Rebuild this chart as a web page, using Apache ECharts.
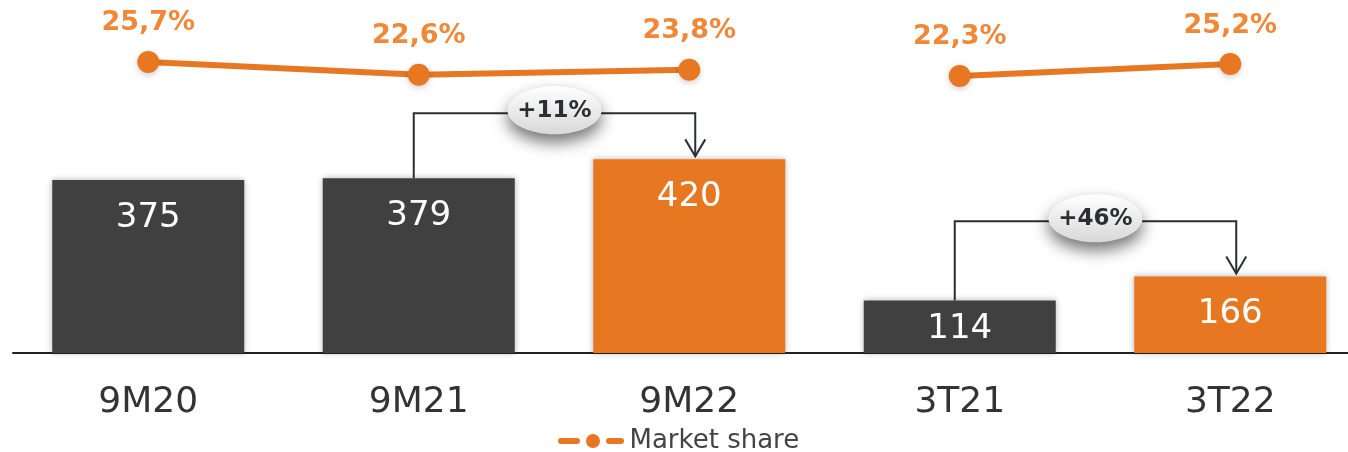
<!DOCTYPE html>
<html>
<head>
<meta charset="utf-8">
<script src="https://cdn.jsdelivr.net/npm/echarts@6/dist/echarts.min.js"></script>
<style>
  html, body { margin: 0; padding: 0; background: #fff; }
  #chart { width: 1348px; height: 452px; }
</style>
</head>
<body>
<div id="chart"></div>
<script>
// data
const categories = ['9M20', '9M21', '9M22', '3T21', '3T22'];
const volumes = [375, 379, 420, 114, 166];
const shareA = [25.7, 22.6, 23.8, null, null];   // nine-month periods
const shareB = [null, null, null, 22.3, 25.2];   // third quarters
const growthFrom = [1, 3];
const growthTo = [2, 4];
const growthLabels = ['+11%', '+46%'];

const DARK = '#404040';
const ORANGE = '#E87722';
const highlight = [false, false, true, false, true];
const FONT = 'DejaVu Sans';

const chart = echarts.init(document.getElementById('chart'));

const lineSeries = (data) => ({
    name: 'Market share',
    type: 'line',
    yAxisIndex: 1,
    data: data,
    symbol: 'circle',
    symbolSize: 22,
    z: 5,
    lineStyle: { color: ORANGE, width: 6 },
    itemStyle: { color: ORANGE, shadowBlur: 6, shadowColor: 'rgba(0,0,0,0.2)', shadowOffsetY: 2 },
    label: {
        show: true,
        position: 'top',
        distance: 14,
        color: '#F0883A',
        fontFamily: FONT,
        fontWeight: 'bold',
        fontSize: 27,
        formatter: p => p.value.toFixed(1).replace('.', ',') + '%'
    }
});

// legend mark: two rounded dashes with a dot between
const legendIcon = 'path://M3,4L19,4A3,3 0 0 1 19,10L3,10A3,3 0 0 1 3,4Z' +
    'M28,7A7,7 0 1 0 42,7A7,7 0 1 0 28,7Z' +
    'M51,4L63,4A3,3 0 0 1 63,10L51,10A3,3 0 0 1 51,4Z';

const options = {
    animation: false,
    grid: { left: 13, width: 1352.5, top: 10, bottom: 99, outerBoundsMode: 'none' },
    legend: {
        data: [{ name: 'Market share', icon: legendIcon }],
        left: 553,
        top: 423,
        itemWidth: 67,
        itemHeight: 14,
        itemGap: 10,
        itemStyle: { color: ORANGE, shadowBlur: 0 },
        textStyle: { fontFamily: FONT, fontSize: 26, color: '#444' }
    },
    xAxis: {
        type: 'category',
        data: categories,
        axisLine: { lineStyle: { color: '#222', width: 2 } },
        axisTick: { show: false },
        axisLabel: { margin: 32, fontFamily: FONT, fontSize: 36, color: '#333' }
    },
    yAxis: [
        { type: 'value', min: 0, max: 744, show: false },
        { type: 'value', min: -44.9, max: 38.3, show: false }
    ],
    series: [
        {
            name: 'Volume',
            type: 'bar',
            barWidth: 192,
            data: volumes.map((v, i) => ({
                value: v,
                itemStyle: { color: highlight[i] ? ORANGE : DARK },
                label: v < 150 ? { position: 'inside', offset: [0, 2] } : undefined
            })),
            itemStyle: { shadowBlur: 6, shadowColor: 'rgba(0,0,0,0.3)' },
            label: {
                show: true,
                position: 'insideTop',
                distance: 21,
                color: '#fff',
                fontFamily: FONT,
                fontSize: 34
            }
        },
        lineSeries(shareA),
        lineSeries(shareB)
    ]
};

chart.setOption(options);

// growth brackets between bars, placed through the axis scales
const bracketLevel = [520, 286];
const elements = [];
growthFrom.forEach((from, k) => {
    const to = growthTo[k];
    const p0 = chart.convertToPixel({ xAxisIndex: 0, yAxisIndex: 0 }, [from, volumes[from]]);
    const p1 = chart.convertToPixel({ xAxisIndex: 0, yAxisIndex: 0 }, [to, volumes[to]]);
    const top = chart.convertToPixel({ yAxisIndex: 0 }, bracketLevel[k]);
    const x0 = p0[0] - 5;
    const x1 = p1[0] + 6;
    const tipY = p1[1] - 3;
    elements.push({
        type: 'polyline',
        shape: { points: [[x0, p0[1]], [x0, top], [x1, top], [x1, tipY]] },
        style: { stroke: '#2b2f33', lineWidth: 2, fill: null },
        z: 10
    });
    elements.push({
        type: 'polyline',
        shape: { points: [[x1 - 10, tipY - 17], [x1, tipY], [x1 + 10, tipY - 17]] },
        style: { stroke: '#2b2f33', lineWidth: 2, fill: null },
        z: 10
    });
    const cx = (x0 + x1) / 2;
    const cy = top - 3;
    elements.push({
        type: 'ellipse',
        shape: { cx: cx, cy: cy, rx: 47, ry: 24 },
        style: {
            fill: new echarts.graphic.LinearGradient(0, 0, 0, 1, [
                { offset: 0, color: '#ffffff' },
                { offset: 1, color: '#d8d8d8' }
            ]),
            shadowBlur: 16,
            shadowColor: 'rgba(0,0,0,0.55)',
            shadowOffsetY: 8
        },
        z: 11
    });
    elements.push({
        type: 'text',
        x: cx,
        y: cy + 1,
        style: {
            text: growthLabels[k],
            align: 'center',
            verticalAlign: 'middle',
            fill: '#2b2f33',
            font: 'bold 23px "' + FONT + '"'
        },
        z: 12
    });
});
chart.setOption({ graphic: elements });
</script>
</body>
</html>
